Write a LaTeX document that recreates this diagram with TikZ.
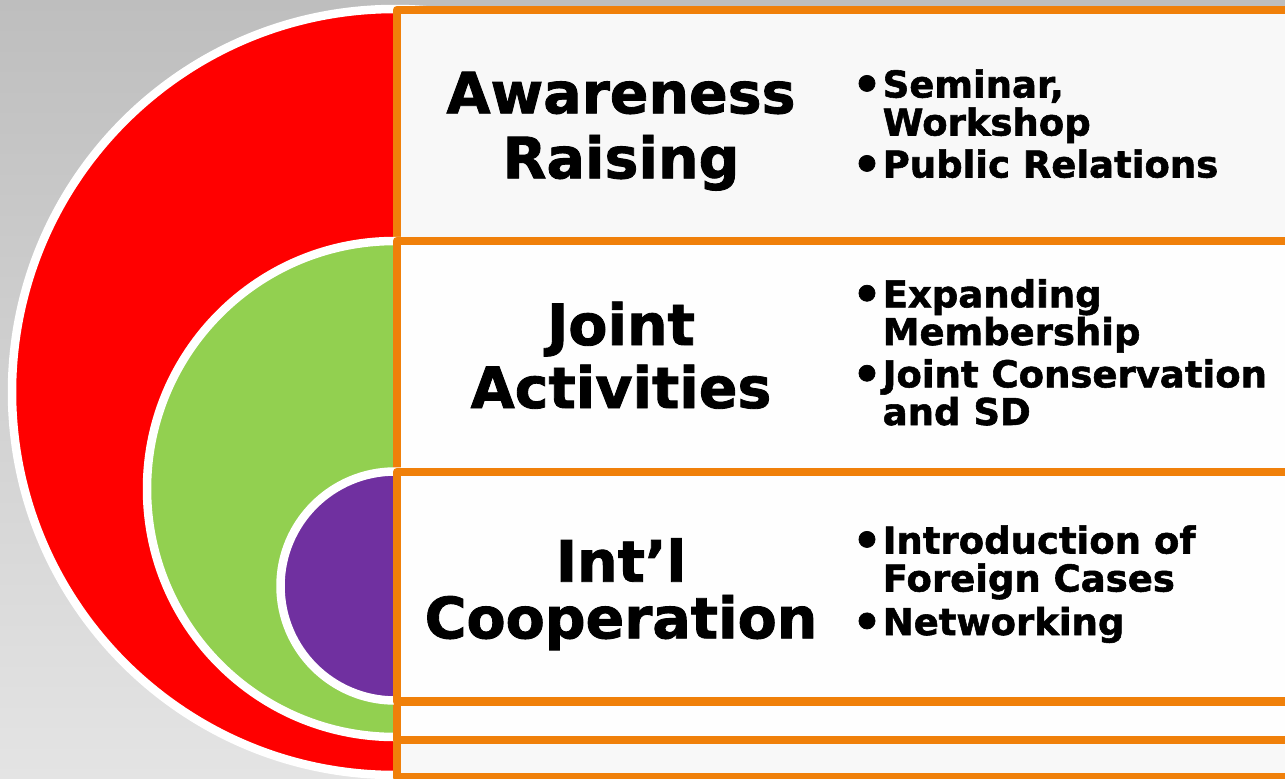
\documentclass[tikz,border=0pt]{standalone}
\usepackage{fontspec}
\setmainfont{DejaVu Sans}
\newfontfamily\heavy[FakeBold=1.5]{DejaVu Sans Bold}
\definecolor{bgtop}{HTML}{BEBEBE}
\definecolor{bgbot}{HTML}{E4E4E4}
\definecolor{redA}{HTML}{FF0000}
\definecolor{greenA}{HTML}{92D050}
\definecolor{purpleA}{HTML}{7030A0}
\definecolor{orangeA}{HTML}{F0800A}
\definecolor{boxA}{HTML}{F8F8F8}
\definecolor{boxB}{HTML}{FEFEFE}
\begin{document}
\begin{tikzpicture}[x=1pt,y=-1pt,
  ring/.style={draw=white, line width=8.5pt},
  panel/.style={draw=orangeA, line width=8.5pt, line join=round},
  title/.style={font=\heavy\fontsize{57}{65}\selectfont, anchor=base, inner sep=0pt},
  item/.style={font=\heavy\fontsize{37}{38}\selectfont, anchor=base west, inner sep=0pt},
  dot/.style={font=\heavy\fontsize{46}{46}\selectfont, anchor=base, inner sep=0pt}]
\useasboundingbox (0,0) rectangle (1285,779);
\clip (0,0) rectangle (1285,779);
\shade[top color=bgtop, bottom color=bgbot] (0,0) rectangle (1285,779);
% nested circles and panels
\draw[ring, fill=redA] (395,392) circle[radius=383];
\draw[panel, fill=boxA] (397,10) rectangle (1300,777.5);
\draw[ring, fill=greenA] (395,489) circle[radius=248];
\draw[panel, fill=boxB] (397,241) rectangle (1300,740);
\draw[ring, fill=purpleA] (395,586) circle[radius=114.5];
\draw[panel, fill=boxB] (397,472) rectangle (1300,701.7);
% titles
\node[title] (t1a) at (621,113.3) {Awareness};
\node[title] (t1b) at (621,178.3) {Raising};
\node[title] (t2a) at (621,345) {Joint};
\node[title] (t2b) at (621,408) {Activities};
\node[title] (t3a) at (621,581.7) {Int’l};
\node[title] (t3b) at (621,638.3) {Cooperation};
% bullets box 1
\node[dot] (b1) at (867,100.5) {•};
\node[item] (i1a) at (882.5,97.5) {Seminar,};
\node[item] (i1b) at (882.5,135.5) {Workshop};
\node[dot] (b2) at (867,180.5) {•};
\node[item] (i2) at (882.5,177.5) {Public Relations};
% bullets box 2
\node[dot] (b3) at (867,310.3) {•};
\node[item] (i3a) at (882.5,307.3) {Expanding};
\node[item] (i3b) at (882.5,345) {Membership};
\node[dot] (b4) at (867,390.3) {•};
\node[item] (i4a) at (882.5,387.3) {Joint Conservation};
\node[item] (i4b) at (882.5,425) {and SD};
% bullets box 3
\node[dot] (b5) at (867,556.5) {•};
\node[item] (i5a) at (882.5,553.5) {Introduction of};
\node[item] (i5b) at (882.5,591.5) {Foreign Cases};
\node[dot] (b6) at (867,638) {•};
\node[item] (i6) at (882.5,635) {Networking};
\end{tikzpicture}
\end{document}
